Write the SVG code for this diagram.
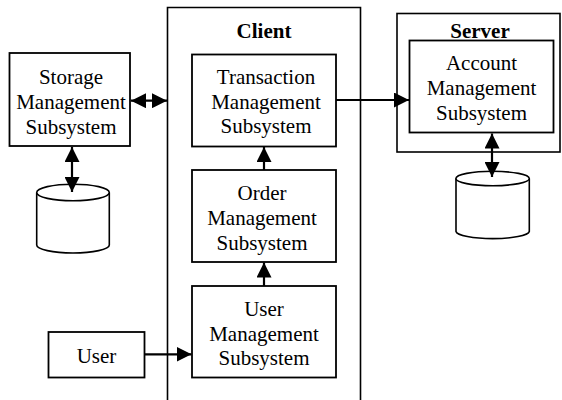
<svg xmlns="http://www.w3.org/2000/svg" width="562" height="400" viewBox="0 0 562 400">
  <style>
    .box { fill: #fff; stroke: #000; stroke-width: 1.8; }
    .frame { fill: none; stroke: #000; stroke-width: 1.6; }
    .db { fill: #fff; stroke: #000; stroke-width: 1.6; }
    text { font-family: 'Liberation Serif', 'DejaVu Serif', serif; font-size: 21px; fill: #000; text-anchor: middle; }
    .title { font-weight: bold; }
    .conn { stroke: #000; stroke-width: 2.2; fill: none; }
  </style>
  <defs>
    <marker id="head" markerUnits="userSpaceOnUse" markerWidth="16" markerHeight="15" refX="15" refY="7.5" orient="auto-start-reverse">
      <path d="M0,0 L15,7.5 L0,15 z" fill="#000"/>
    </marker>
  </defs>
  <rect width="562" height="400" fill="#fff"/>

  <!-- client tier container (open at the bottom) -->
  <g id="client">
    <path class="frame" d="M167.5,402 V7.5 H360.5 V402"/>
    <text class="title" x="264" y="37.5">Client</text>
  </g>

  <!-- server tier container -->
  <g id="server">
    <rect class="frame" x="397" y="13.5" width="163" height="138.5"/>
    <text class="title" x="480" y="37.5">Server</text>
  </g>

  <g id="storage">
    <rect class="box" x="9.5" y="53" width="120.5" height="93"/>
    <text x="71" y="83.5">Storage</text>
    <text x="71" y="108.5">Management</text>
    <text x="71" y="133.5">Subsystem</text>
  </g>

  <g id="storage-db">
    <path class="db" d="M36.7,192.5 V245 A36.3,8 0 0 0 109.3,245 V192.5"/>
    <ellipse class="db" cx="73" cy="192.5" rx="36.3" ry="8.3"/>
  </g>

  <g id="transaction">
    <rect class="box" x="192" y="54.5" width="144" height="92"/>
    <text x="266" y="84">Transaction</text>
    <text x="266" y="108.5">Management</text>
    <text x="266" y="133">Subsystem</text>
  </g>

  <g id="order">
    <rect class="box" x="192" y="170" width="144" height="92"/>
    <text x="262" y="200">Order</text>
    <text x="262" y="225">Management</text>
    <text x="262" y="250">Subsystem</text>
  </g>

  <g id="user-mgmt">
    <rect class="box" x="192" y="286" width="144" height="91.5"/>
    <text x="264" y="316">User</text>
    <text x="264" y="340.5">Management</text>
    <text x="264" y="365">Subsystem</text>
  </g>

  <g id="user">
    <rect class="box" x="48.5" y="332" width="96" height="45.5"/>
    <text x="96.5" y="363">User</text>
  </g>

  <g id="account">
    <rect class="box" x="409.5" y="40.5" width="144" height="92"/>
    <text x="481.5" y="70">Account</text>
    <text x="481.5" y="95">Management</text>
    <text x="481.5" y="119.5">Subsystem</text>
  </g>

  <g id="account-db">
    <path class="db" d="M456,178.5 V231.5 A36.7,7.5 0 0 0 529.3,231.5 V178.5"/>
    <ellipse class="db" cx="492.6" cy="178.5" rx="36.7" ry="7.2"/>
  </g>

  <!-- connectors -->
  <g id="connectors">
    <line class="conn" x1="131" y1="100.7" x2="167" y2="100.7" marker-start="url(#head)" marker-end="url(#head)"/>
    <line class="conn" x1="72" y1="147" x2="72" y2="192" marker-start="url(#head)" marker-end="url(#head)"/>
    <line class="conn" x1="336" y1="100" x2="409" y2="100" marker-end="url(#head)"/>
    <line class="conn" x1="492" y1="133.5" x2="492" y2="177" marker-start="url(#head)" marker-end="url(#head)"/>
    <line class="conn" x1="264" y1="170" x2="264" y2="147" marker-end="url(#head)"/>
    <line class="conn" x1="264" y1="286" x2="264" y2="262.5" marker-end="url(#head)"/>
    <line class="conn" x1="145" y1="354.3" x2="191.5" y2="354.3" marker-end="url(#head)"/>
  </g>
</svg>
